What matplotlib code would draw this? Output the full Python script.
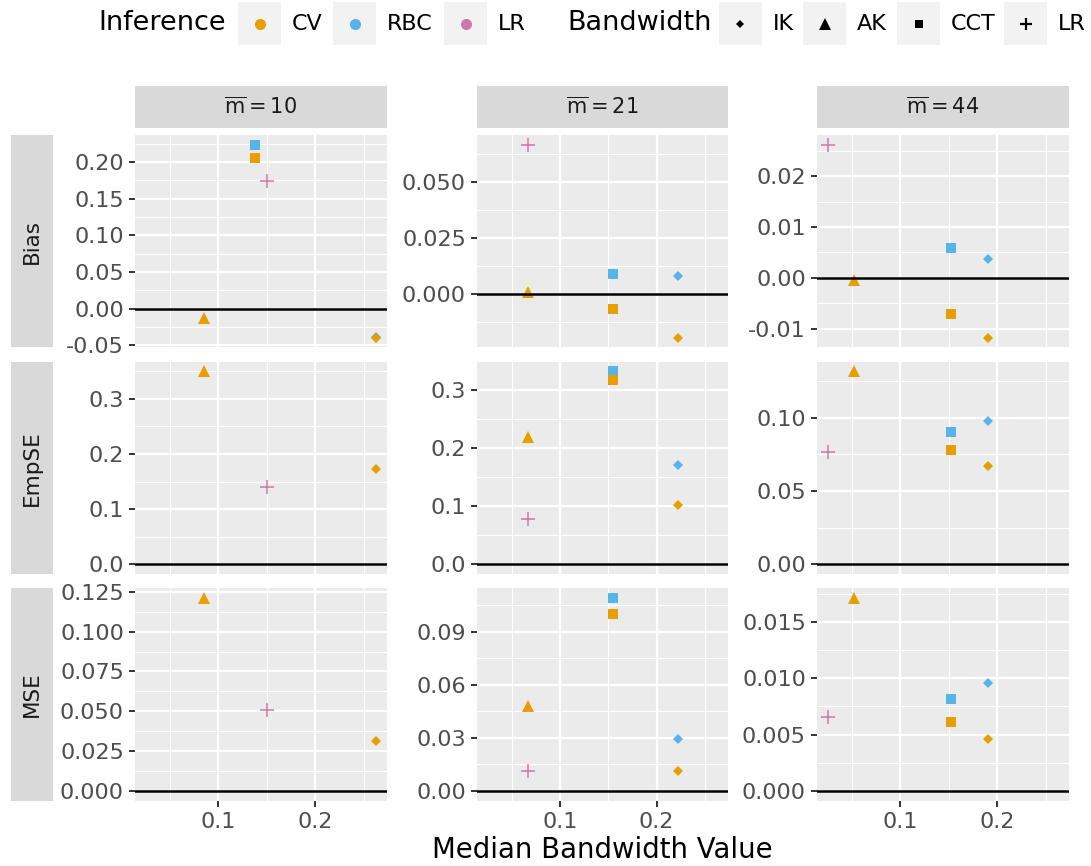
import matplotlib.pyplot as plt
import numpy as np
from matplotlib.lines import Line2D
from matplotlib.patches import Rectangle

plt.rcParams['font.family'] = ['DejaVu Sans']
plt.rcParams['mathtext.fontset'] = 'dejavusans'

# ---- data ----
metrics = ['Bias', 'EmpSE', 'MSE']
m_values = [10, 21, 44]
inference = ['RBC', 'CV', 'CV', 'RBC', 'CV', 'LR']
bandwidth = ['IK', 'IK', 'AK', 'CCT', 'CCT', 'LR']

# median bandwidth per column (m = 10, 21, 44)
bw_ik = [0.262, 0.2216, 0.190]
bw_ak = [0.0856, 0.067, 0.0526]
bw_cct = [0.138, 0.1546, 0.1525]
bw_lr = [0.150, 0.067, 0.026]

nan = np.nan
# rows follow inference/bandwidth order above, columns m = 10, 21, 44
bias = [[-0.0385, 0.0079, 0.0037],
        [-0.0396, -0.0198, -0.0118],
        [-0.0128, 0.0006, -0.0005],
        [0.2237, 0.0088, 0.0058],
        [0.2055, -0.0067, -0.0071],
        [0.1746, 0.0667, 0.0262]]
empse = [[nan, 0.170, 0.0982],
         [0.172, 0.102, 0.067],
         [0.350, 0.219, 0.1319],
         [nan, 0.3315, 0.0902],
         [nan, 0.317, 0.078],
         [0.140, 0.0785, 0.0766]]
mse = [[nan, 0.0294, 0.00962],
       [0.0314, 0.0113, 0.00464],
       [0.1214, 0.048, 0.01717],
       [nan, 0.1094, 0.00816],
       [nan, 0.1004, 0.0061],
       [0.0506, 0.0113, 0.00654]]

x_ticks = [0.1, 0.2]
x_tick_labels = ['0.1', '0.2']
y_ticks = {
    ('Bias', 10): [-0.05, 0.0, 0.05, 0.10, 0.15, 0.20],
    ('Bias', 21): [0.0, 0.025, 0.05],
    ('Bias', 44): [-0.01, 0.0, 0.01, 0.02],
    ('EmpSE', 10): [0.0, 0.1, 0.2, 0.3],
    ('EmpSE', 21): [0.0, 0.1, 0.2, 0.3],
    ('EmpSE', 44): [0.0, 0.05, 0.10],
    ('MSE', 10): [0.0, 0.025, 0.05, 0.075, 0.10, 0.125],
    ('MSE', 21): [0.0, 0.03, 0.06, 0.09],
    ('MSE', 44): [0.0, 0.005, 0.010, 0.015],
}
y_tick_labels = {
    ('Bias', 10): ['-0.05', '0.00', '0.05', '0.10', '0.15', '0.20'],
    ('Bias', 21): ['0.000', '0.025', '0.050'],
    ('Bias', 44): ['-0.01', '0.00', '0.01', '0.02'],
    ('EmpSE', 10): ['0.0', '0.1', '0.2', '0.3'],
    ('EmpSE', 21): ['0.0', '0.1', '0.2', '0.3'],
    ('EmpSE', 44): ['0.00', '0.05', '0.10'],
    ('MSE', 10): ['0.000', '0.025', '0.050', '0.075', '0.100', '0.125'],
    ('MSE', 21): ['0.00', '0.03', '0.06', '0.09'],
    ('MSE', 44): ['0.000', '0.005', '0.010', '0.015'],
}

# ---- styles ----
inf_colors = {'CV': '#E69F00', 'RBC': '#56B4E9', 'LR': '#CC79A7'}
bw_markers = {'IK': ('D', 4.6), 'AK': ('^', 8.9), 'CCT': ('s', 6.7), 'LR': ('+', 10.5)}
bw_x = {'IK': bw_ik, 'AK': bw_ak, 'CCT': bw_cct, 'LR': bw_lr}
values = {'Bias': bias, 'EmpSE': empse, 'MSE': mse}

W, H = 1091, 866
fig = plt.figure(figsize=(W / 100, H / 100), dpi=100)


def px_box(x0, y0, x1, y1):
    return [x0 / W, 1 - y1 / H, (x1 - x0) / W, (y1 - y0) / H]


col_px = [(135, 387), (477, 728), (817, 1069)]
row_px = [(135, 347.5), (361.5, 574), (588, 800.5)]

# shared x range (ggplot 5% expansion)
all_x = np.concatenate([bw_ik, bw_ak, bw_cct, bw_lr])
xr = all_x.max() - all_x.min()
xlim = (all_x.min() - 0.05 * xr, all_x.max() + 0.05 * xr)

for r, metric in enumerate(metrics):
    for c, m in enumerate(m_values):
        ax = fig.add_axes(px_box(col_px[c][0], row_px[r][0], col_px[c][1], row_px[r][1]))
        ax.set_facecolor('#EBEBEB')
        for s in ax.spines.values():
            s.set_visible(False)

        ys = []
        for i in range(len(inference)):
            y = values[metric][i][c]
            if np.isnan(y):
                continue
            ys.append(y)
            mk, ms = bw_markers[bandwidth[i]]
            col = inf_colors[inference[i]]
            if mk == '+':
                ax.plot([bw_x[bandwidth[i]][c]], [y], marker=mk, ms=ms, color=col,
                        mew=1.1, ls='none', zorder=3)
            else:
                ax.plot([bw_x[bandwidth[i]][c]], [y], marker=mk, ms=ms, color=col,
                        mew=0, ls='none', zorder=3)
        ys.append(0.0)
        ys = np.array(ys)
        yr = ys.max() - ys.min()
        ylim = (ys.min() - 0.05 * yr, ys.max() + 0.05 * yr)
        ax.axhline(0, color='black', lw=1.8, zorder=4)

        ax.set_xlim(xlim)
        ax.set_ylim(ylim)
        ax.set_xticks(x_ticks)
        ax.set_xticklabels(x_tick_labels)
        ax.set_xticks([0.05, 0.15, 0.25], minor=True)
        yt = y_ticks[(metric, m)]
        ax.set_yticks(yt)
        ax.set_yticklabels(y_tick_labels[(metric, m)])
        step = yt[1] - yt[0]
        minor = np.arange(yt[0] - step / 2, yt[-1] + step, step)
        ax.set_yticks([v for v in minor if ylim[0] <= v <= ylim[1]], minor=True)

        ax.set_axisbelow(True)
        ax.grid(which='major', color='white', lw=1.6)
        ax.grid(which='minor', color='white', lw=0.8)
        ax.tick_params(which='minor', length=0)
        ax.tick_params(which='major', length=4, width=1.4, color='#333333',
                       labelcolor='#4D4D4D', labelsize=16, pad=4)
        if r < len(metrics) - 1:
            ax.tick_params(axis='x', which='major', length=0, labelbottom=False)

# column strips
for c, m in enumerate(m_values):
    sa = fig.add_axes(px_box(col_px[c][0], 86, col_px[c][1], 127.7))
    sa.set_facecolor('#D9D9D9')
    sa.set_xticks([]); sa.set_yticks([])
    for s in sa.spines.values():
        s.set_visible(False)
    sa.text(0.5, 0.5, r'$\overline{\mathrm{m}}=%d$' % m, ha='center', va='center',
            color='#1A1A1A', fontsize=15, transform=sa.transAxes)

# row strips
for r, metric in enumerate(metrics):
    sa = fig.add_axes(px_box(11, row_px[r][0], 53, row_px[r][1]))
    sa.set_facecolor('#D9D9D9')
    sa.set_xticks([]); sa.set_yticks([])
    for s in sa.spines.values():
        s.set_visible(False)
    sa.text(0.5, 0.5, metric, ha='center', va='center', rotation=90,
            color='#1A1A1A', fontsize=15.5, transform=sa.transAxes)

fig.text(602 / W, 1 - 850 / H, 'Median Bandwidth Value', ha='center', va='center',
         fontsize=19.8)

# ---- legend across the top ----
key_y0, key_y1 = 2, 45
key_cy = 1 - (key_y0 + key_y1) / 2 / H


def legend_key(x0, label, lx, marker, ms, color, mew=0):
    fig.add_artist(Rectangle((x0 / W, 1 - key_y1 / H), 43 / W, (key_y1 - key_y0) / H,
                             transform=fig.transFigure, facecolor='#F2F2F2',
                             edgecolor='none'))
    fig.add_artist(Line2D([(x0 + 21.5) / W], [key_cy], marker=marker, ms=ms, color=color,
                          mew=mew, ls='none', transform=fig.transFigure))
    fig.text(lx / W, key_cy, label, ha='left', va='center', fontsize=16)


fig.text(98 / W, key_cy, 'Inference', ha='left', va='center', fontsize=19.5)
legend_key(238, 'CV', 292, 'o', 8, inf_colors['CV'])
legend_key(333, 'RBC', 387, 'o', 8, inf_colors['RBC'])
legend_key(444, 'LR', 498, 'o', 8, inf_colors['LR'])

fig.text(567 / W, key_cy, 'Bandwidth', ha='left', va='center', fontsize=19.5)
legend_key(719, 'IK', 773, 'D', 4, 'black')
legend_key(803, 'AK', 857, '^', 8.5, 'black')
legend_key(897, 'CCT', 951, 's', 6, 'black')
legend_key(1004, 'LR', 1058, '+', 8.5, 'black', mew=1.6)

fig.savefig('out.png', dpi=100)
